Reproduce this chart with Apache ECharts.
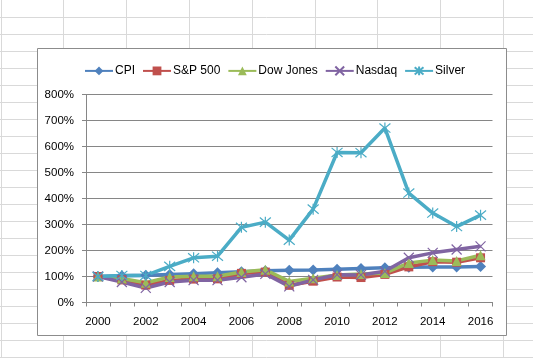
<!DOCTYPE html>
<html>
<head>
<meta charset="utf-8">
<script src="https://cdn.jsdelivr.net/npm/echarts@6/dist/echarts.min.js"></script>
<style>html,body{margin:0;padding:0;background:#fff}#c{width:533px;height:358px}</style>
</head>
<body>
<div id="c"></div>
<script>
const years = ['2000','2001','2002','2003','2004','2005','2006','2007','2008','2009','2010','2011','2012','2013','2014','2015','2016'];
const cpi    = [100,103,105,108,111,114,118,122,124,125,128,131,134,136,137,137,138];
const sp500  = [100,87,67,85,90,91,112,117,66,82,98,96,108,137,157,155,172];
const dow    = [100,92,76,98,101,101,117,126,81,93,106,110,113,152,163,160,182];
const nasdaq = [100,79,56,79,86,86,97,110,62,87,107,106,120,172,191,204,216];
const silver = [100,104,104,139,172,178,289,309,240,359,577,576,671,421,344,292,336];
const yTicks = [0,100,200,300,400,500,600,700,800];

const FONT = '"Liberation Sans", Arial, sans-serif';
const bg = [];
// spreadsheet cell grid (decoration)
for (let x of [1,63,126,189,252,315,377,440,503]) {
  bg.push({type:'line', z:-20, silent:true, shape:{x1:x+0.5,y1:0,x2:x+0.5,y2:358}, style:{stroke:'#d9d9d9',lineWidth:1}});
}
for (let y = 17; y < 358; y += 17) {
  bg.push({type:'line', z:-20, silent:true, shape:{x1:0,y1:y+0.5,x2:533,y2:y+0.5}, style:{stroke:'#d9d9d9',lineWidth:1}});
}
bg.push({type:'rect', z:-10, silent:true, shape:{x:37.5,y:48.5,width:469,height:287}, style:{fill:'#fff',stroke:'#8c8c8c',lineWidth:1}});

const X = 'path://M0,0L10,10M10,0L0,10';
const AST = 'path://M0,0L10,10M10,0L0,10M5,-1L5,11';

function mk(name, data, color, symbol, size, stroke) {
  return {
    name, type:'line', data, symbol, symbolSize:size,
    lineStyle:{color, width:3.5},
    itemStyle:{color: stroke ? 'none' : color, borderColor: color, borderWidth: stroke ? 1.2 : 0},
    emphasis:{disabled:true}
  };
}

const chart = echarts.init(document.getElementById('c'));
chart.setOption({
  animation:false,
  graphic: bg,
  legend:{
    left:79, top:59, itemWidth:28, itemHeight:11, itemGap:7,
    textStyle:{fontFamily:FONT, fontSize:12, color:'#000', padding:[0,0,0,-3]},
    data:['CPI','S&P 500','Dow Jones','Nasdaq','Silver']
  },
  grid:{left:86, right:40.5, top:94.5, bottom:55.5},
  xAxis:{
    type:'category', data:years, boundaryGap:true,
    axisLine:{lineStyle:{color:'#868686'}},
    axisTick:{show:true, interval:0, length:4, lineStyle:{color:'#868686'}},
    axisLabel:{interval:1, fontFamily:FONT, fontSize:11.5, color:'#000', margin:13}
  },
  yAxis:{
    type:'value', min:0, max:800, interval:100,
    axisLine:{show:true, lineStyle:{color:'#868686'}},
    axisTick:{show:true, length:4, lineStyle:{color:'#868686'}},
    splitLine:{lineStyle:{color:'#868686', width:1}},
    axisLabel:{fontFamily:FONT, fontSize:11.5, color:'#000', margin:12,
      formatter: v => yTicks.includes(v) ? v + '%' : ''}
  },
  series:[
    mk('CPI', cpi, '#4F81BD', 'diamond', 11, false),
    mk('S&P 500', sp500, '#C0504D', 'rect', 9, false),
    mk('Dow Jones', dow, '#9BBB59', 'triangle', 10, false),
    mk('Nasdaq', nasdaq, '#8064A2', X, 10, true),
    mk('Silver', silver, '#4BACC6', AST, 11, true)
  ]
});
</script>
</body>
</html>
